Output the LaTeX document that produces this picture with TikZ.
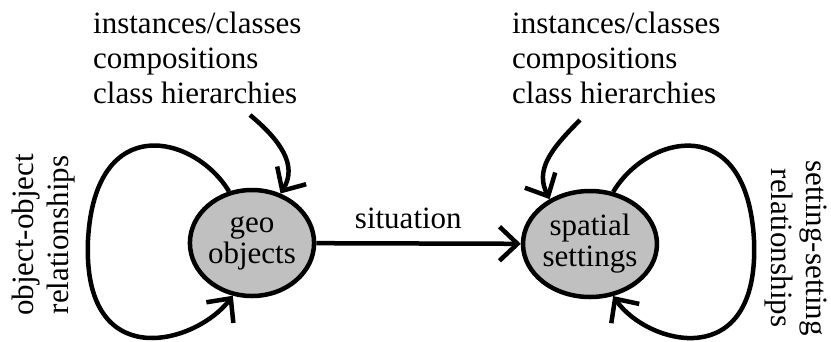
\documentclass[tikz,border=0pt]{standalone}
\usepackage{fontspec}
\setmainfont{Liberation Serif}
\usetikzlibrary{arrows.meta,shapes.geometric}
\definecolor{nodegray}{RGB}{192,192,192}
\tikzset{
  lbl/.style={inner sep=0pt,align=left,font=\fontsize{31}{35}\selectfont},
  conc/.style={ellipse,draw,line width=4.5pt,fill=nodegray,minimum width=122pt,minimum height=106pt,inner sep=0pt,align=center,font=\fontsize{31}{31}\selectfont},
  rel/.style={line width=4.5pt,-{Straight Barb[length=18pt,width=34pt,line width=4.5pt]}}
}
\begin{document}
\begin{tikzpicture}[x=1pt,y=-1pt]
\useasboundingbox (0,0) rectangle (831,341);
\node[conc] (geo) at (252,243) {geo\\objects};
\node[conc] (spatial) at (590,244) {spatial\\settings};
\foreach \n/\x in {instGeo/93,instSpatial/512} {
  \node[lbl,anchor=north west] (\n) at (\x,12) {instances/classes\\compositions\\class hierarchies};
}
\node[lbl,align=center,rotate=90] (relGeo) at (44,235) {object-object\\relationships};
\node[lbl,align=center,rotate=-90] (relSpatial) at (796,248) {setting-setting\\relationships};
\coordinate (inGeo) at (250,115);
\coordinate (inSpatial) at (580,120);
\draw[rel] (geo) -- (spatial) node[lbl,pos=0.45,above=12pt] (sit) {situation};
\draw[rel] (inGeo) .. controls (280,140) and (298,165) .. (geo.60);
\draw[rel] (inSpatial) .. controls (550,150) and (535,170) .. (spatial.132);
\draw[rel] (geo.114) .. controls (195,135) and (95,110) .. (88,240) .. controls (82,375) and (195,345) .. (geo.250);
\draw[rel] (spatial.66) .. controls (647,135) and (747,110) .. (754,240) .. controls (760,375) and (647,345) .. (spatial.294);
\end{tikzpicture}
\end{document}
